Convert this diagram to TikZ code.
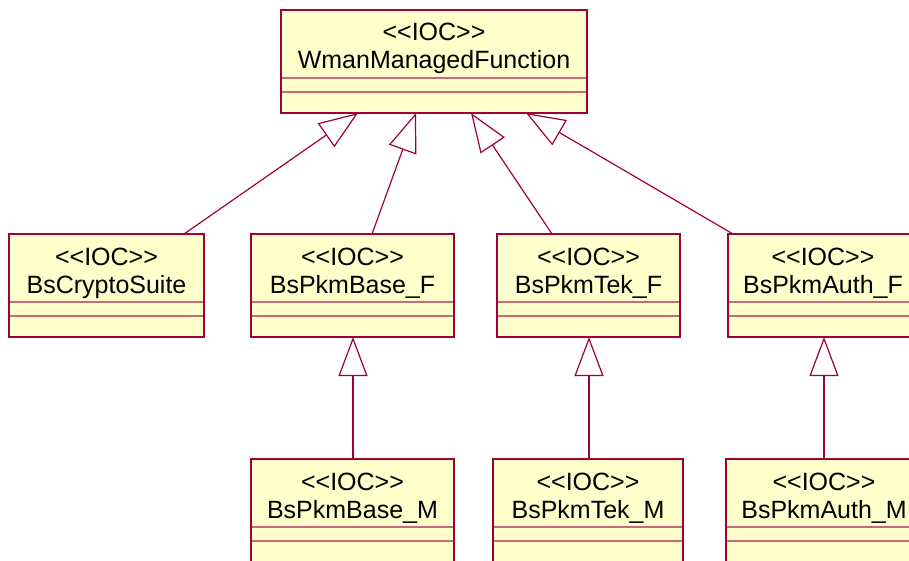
\documentclass[tikz,border=0pt]{standalone}
\usepackage{fontspec}
\setmainfont{Liberation Sans}
\usetikzlibrary{arrows.meta,calc}
\definecolor{umlline}{RGB}{160,0,52}
\definecolor{umlfill}{RGB}{255,255,204}
\definecolor{umlsep}{RGB}{200,105,125}
\tikzset{
  cls/.style={draw=umlline, fill=umlfill, line width=1.4pt, rectangle, anchor=north west,
    inner sep=0pt, outer sep=0pt, minimum height=103pt},
  ctext/.style={anchor=base, inner sep=0pt, font=\fontsize{25pt}{28pt}\selectfont},
  sepline/.style={draw=umlsep, line width=1.2pt},
  gen/.style={draw=umlline, line width=1.2pt, -{Triangle[open, length=39pt, width=29pt]}},
}
\newcommand{\IOCtext}{<{}<IOC>{}>}
\newcommand{\UmlClass}[5]{%
  \node[cls, minimum width=#4pt] (#1) at (#2,#3) {};
  \node[ctext] (#1-s) at ($(#1.north)+(0,31)$) {\IOCtext};
  \node[ctext] (#1-n) at ($(#1.north)+(0,59)$) {#5};
  \draw[sepline] ($(#1.north west)+(0.7,68)$) -- ($(#1.north east)+(-0.7,68)$);
  \draw[sepline] ($(#1.north west)+(0.7,82)$) -- ($(#1.north east)+(-0.7,82)$);
}
\begin{document}
\begin{tikzpicture}[x=1pt,y=-1pt]
\useasboundingbox (0,0) rectangle (909,561);
\clip (0,0) rectangle (909,561);
\UmlClass{top}{281}{10}{306}{WmanManagedFunction}
\UmlClass{crypto}{9}{234}{195}{BsCryptoSuite}
\UmlClass{baseF}{251}{234}{203}{BsPkmBase\_F}
\UmlClass{tekF}{497}{234}{183}{BsPkmTek\_F}
\UmlClass{authF}{728}{234}{190}{BsPkmAuth\_F}
\UmlClass{baseM}{251}{459}{203}{BsPkmBase\_M}
\UmlClass{tekM}{493}{459}{190}{BsPkmTek\_M}
\UmlClass{authM}{726}{459}{196}{BsPkmAuth\_M}
% attachment points
\coordinate (t1) at ($(top.south west)+(77,0)$);
\coordinate (t2) at ($(top.south west)+(135,0)$);
\coordinate (t3) at ($(top.south west)+(190,0)$);
\coordinate (t4) at ($(top.south west)+(245,0)$);
\coordinate (s1) at ($(crypto.north west)+(175,0)$);
\coordinate (s2) at ($(baseF.north west)+(121,0)$);
\coordinate (s3) at ($(tekF.north west)+(55,0)$);
\coordinate (s4) at ($(authF.north west)+(5,0)$);
\draw[gen] (s1) -- (t1);
\draw[gen] (s2) -- (t2);
\draw[gen] (s3) -- (t3);
\draw[gen] (s4) -- (t4);
\coordinate (bm) at ($(baseM.north west)+(102,0)$);
\coordinate (bf) at ($(baseF.south west)+(102,0)$);
\coordinate (tm) at ($(tekM.north west)+(96,0)$);
\coordinate (tf) at ($(tekF.south west)+(92,0)$);
\coordinate (am) at ($(authM.north west)+(98,0)$);
\coordinate (af) at ($(authF.south west)+(96,0)$);
\draw[gen] (bm) -- (bf);
\draw[gen] (tm) -- (tf);
\draw[gen] (am) -- (af);
\end{tikzpicture}
\end{document}
